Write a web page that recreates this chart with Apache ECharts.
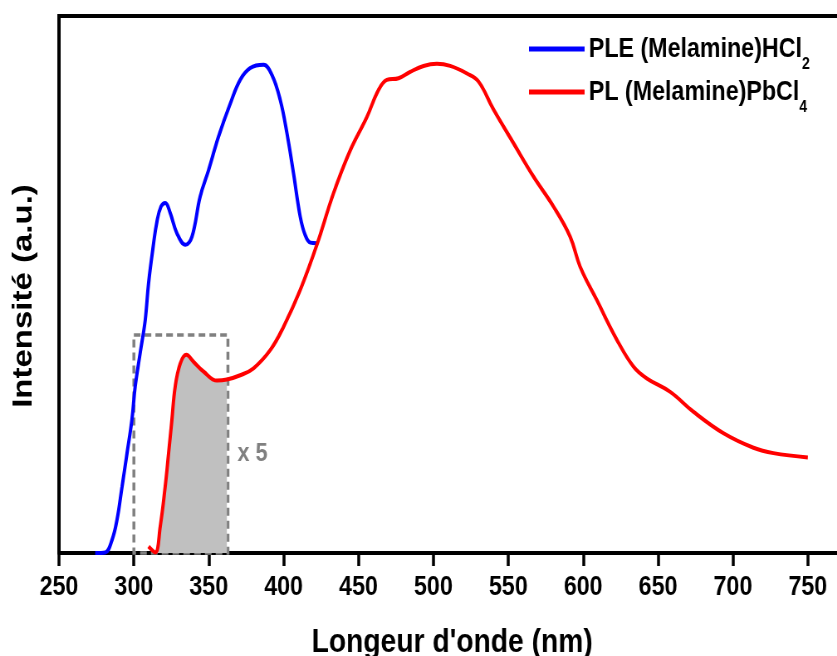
<!DOCTYPE html>
<html>
<head>
<meta charset="utf-8">
<script src="https://cdn.jsdelivr.net/npm/echarts@6/dist/echarts.min.js"></script>
<style>
html,body{margin:0;padding:0;background:#fff;overflow:hidden}
#wrap{width:837px;height:656px;overflow:hidden}
#c{width:1008px;height:656px;transform:scaleX(0.8304);transform-origin:0 0}
</style>
</head>
<body>
<div id="wrap"><div id="c"></div></div>
<script>
// Wavelength (nm) and intensity (a.u., 0-100 scale)
const pleNm  = [274.2, 280.9, 285.4, 288.7, 292.1, 295.4, 298.7, 300.9, 304.2, 307.6, 309.8, 313.2, 315.4, 318.1, 321.0, 324.3, 328.8, 334.4, 338.8, 344.3, 349.9, 356.5, 364.4, 371.0, 377.7, 386.6, 392.2, 397.7, 402.2, 406.6, 411.1, 414.4, 417.8, 422.2];
const pleVal = [0, 0.1, 2.4, 6.1, 12.3, 18.5, 24.8, 31.0, 37.2, 43.4, 50.2, 57.7, 61.7, 64.5, 65.2, 63.3, 59.5, 57.4, 58.9, 66.4, 71.3, 77.5, 83.7, 88.1, 90.3, 90.9, 89.0, 84.4, 78.2, 70.7, 62.6, 59.2, 57.8, 57.7];

const plNm  = [309.8, 314.3, 317.6, 320.9, 323.2, 325.4, 327.6, 331.0, 335.0, 339.9, 346.5, 355.5, 362.1, 371.0, 379.9, 391.1, 399.9, 411.1, 422.2, 433.3, 444.5, 455.6, 463.3, 468.9, 476.7, 484.5, 493.4, 502.3, 511.2, 522.4, 530.1, 540.1, 553.5, 566.8, 580.2, 591.3, 598.0, 609.1, 622.5, 633.6, 642.5, 658.1, 673.6, 693.7, 713.7, 727.0, 750.0];
const plVal = [1.2, 0.1, 4.9, 12.3, 18.6, 24.8, 31.0, 35.3, 36.9, 35.6, 33.8, 32.1, 32.3, 33.1, 34.4, 37.8, 42.1, 49.0, 57.4, 67.0, 75.0, 81.2, 86.2, 88.1, 88.4, 89.6, 90.7, 91.1, 90.7, 89.3, 87.8, 82.6, 76.3, 70.1, 64.5, 58.9, 53.3, 47.1, 39.7, 34.7, 32.5, 30.0, 26.3, 22.3, 19.6, 18.6, 17.8];

// Shaded (x 5) region and its dashed box
const shadeRange = [314.3, 362.1];
const boxNm = [300, 362.8];
const boxTop = 40.6;
const boxLabel = 'x 5';

const seriesNames = ['PLE (Melamine)HCl', 'PL (Melamine)PbCl'];
const subscripts = ['2', '4'];
const xTitle = "Longeur d'onde (nm)";
const yTitle = 'Intensité (a.u.)';

const pleData = pleNm.map((x, i) => [x, pleVal[i]]);
const plData = plNm.map((x, i) => [x, plVal[i]]);
const shadeData = plData.filter(p => p[0] >= shadeRange[0] && p[0] <= shadeRange[1]);

const FONT = "'Liberation Sans', Arial, Helvetica, sans-serif";

const chart = echarts.init(document.getElementById('c'), null, {renderer: 'canvas'});
chart.setOption({
  backgroundColor: '#fff',
  animation: false,
  grid: {left: 71, right: -55, top: 16, bottom: 103, show: false, containLabel: false, outerBoundsMode: 'none'},
  xAxis: {
    type: 'value', min: 250, max: 800, interval: 50,
    axisLine: {show: true, onZero: false, lineStyle: {color: '#000', width: 4}},
    axisTick: {show: true, length: 13, lineStyle: {color: '#000', width: 3.5}},
    axisLabel: {color: '#000', fontSize: 28, fontWeight: 'bold', fontFamily: FONT, margin: 20},
    splitLine: {show: false},
    name: xTitle, nameLocation: 'middle', nameGap: 73,
    nameTextStyle: {color: '#000', fontSize: 34, fontWeight: 'bold', fontFamily: FONT, padding: [0, 45, 0, 0]}
  },
  yAxis: {
    type: 'value', min: 0, max: 100,
    axisLine: {show: true, onZero: false, lineStyle: {color: '#000', width: 4}},
    axisTick: {show: false}, axisLabel: {show: false}, splitLine: {show: false}
  },
  graphic: [
    {type: 'line', shape: {x1: 69, y1: 16, x2: 1008, y2: 16}, style: {stroke: '#000', lineWidth: 4}, z: 100},
    {type: 'text', x: 29, y: 296, rotation: Math.PI / 2,
     style: {text: yTitle, font: "bold 33px " + FONT, fill: '#000', align: 'center', verticalAlign: 'middle'}},
    {type: 'text', x: 286, y: 454,
     style: {text: boxLabel, font: "bold 26px " + FONT, fill: '#808080', align: 'left', verticalAlign: 'middle'}}
  ],
  legend: {
    data: seriesNames, orient: 'vertical', left: 632, top: 30, itemGap: 5,
    itemWidth: 67, itemHeight: 5, icon: 'rect',
    formatter: function (name) { const i = seriesNames.indexOf(name); return '{n|' + name + '}{s|' + subscripts[i] + '}'; },
    textStyle: {
      rich: {
        n: {fontSize: 28, fontWeight: 'bold', fontFamily: FONT, color: '#000', lineHeight: 34},
        s: {fontSize: 17, fontWeight: 'bold', fontFamily: FONT, color: '#000', verticalAlign: 'bottom', lineHeight: 34, padding: [0, 0, -7, 0]}
      }
    }
  },
  series: [
    {
      name: 'shade', type: 'line', data: shadeData, symbol: 'none', smooth: 0.4,
      lineStyle: {width: 0, opacity: 0}, areaStyle: {color: '#c0c0c0', opacity: 1}, z: 1, silent: true,
      markArea: {
        silent: true,
        itemStyle: {color: 'rgba(0,0,0,0)', borderColor: '#808080', borderWidth: 3.5, borderType: [8, 5]},
        data: [[{coord: [boxNm[0], boxTop]}, {coord: [boxNm[1], 0]}]]
      }
    },
    {
      name: seriesNames[0], type: 'line', data: pleData, symbol: 'none', smooth: 0.4,
      color: '#0000ff', lineStyle: {color: '#0000ff', width: 4}, z: 3
    },
    {
      name: seriesNames[1], type: 'line', data: plData, symbol: 'none', smooth: 0.4,
      color: '#ff0000', lineStyle: {color: '#ff0000', width: 4}, z: 3
    }
  ]
});
</script>
</body>
</html>
